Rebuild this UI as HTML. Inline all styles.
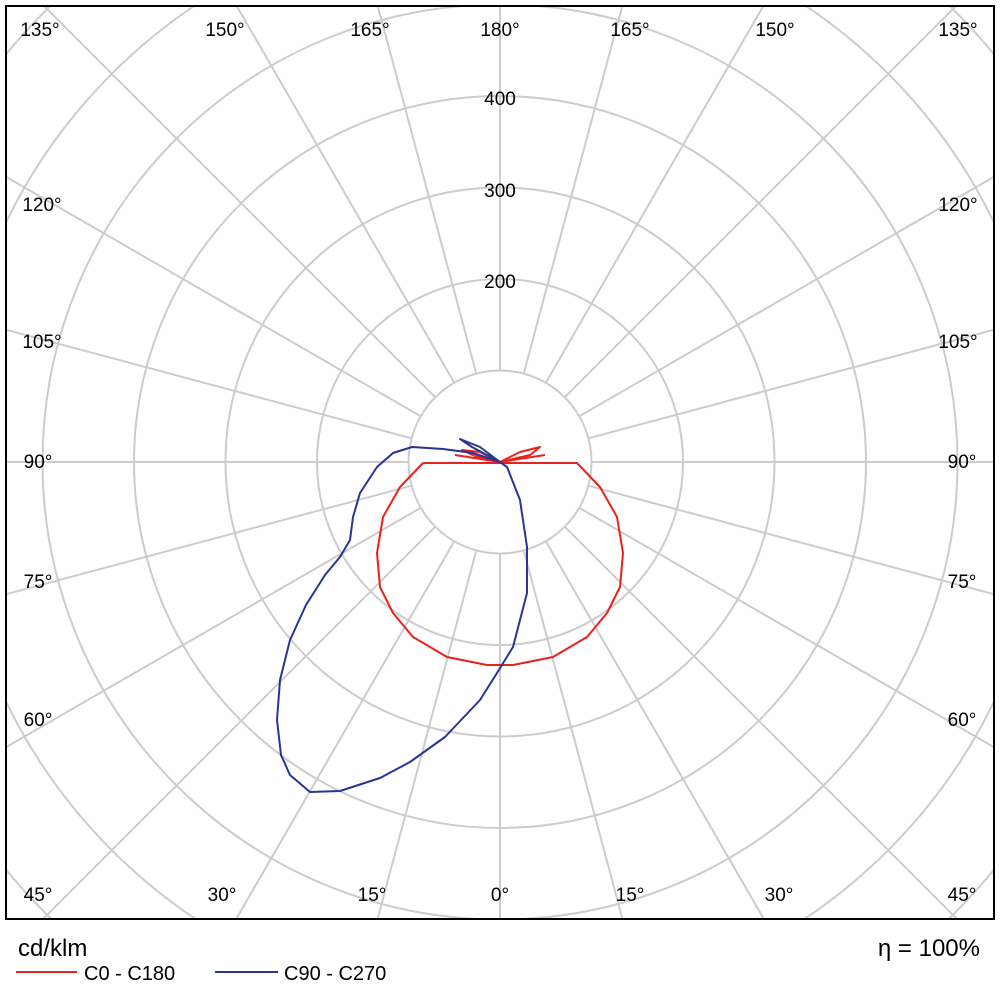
<!DOCTYPE html>
<html><head><meta charset="utf-8"><style>
html,body{margin:0;padding:0;background:#fff;width:1000px;height:1000px;overflow:hidden;}
svg{display:block;font-family:"Liberation Sans","DejaVu Sans",sans-serif;}
</style></head><body>
<svg width="1000" height="1000" viewBox="0 0 1000 1000" xmlns="http://www.w3.org/2000/svg">
<defs><clipPath id="c"><rect x="6" y="6" width="988" height="913"/></clipPath></defs>
<rect width="1000" height="1000" fill="#fff"/>
<g clip-path="url(#c)" stroke="#cccccc" stroke-width="2" fill="none">
<circle cx="500" cy="462" r="91.5"/>
<circle cx="500" cy="462" r="183"/>
<circle cx="500" cy="462" r="274.5"/>
<circle cx="500" cy="462" r="366"/>
<circle cx="500" cy="462" r="457.5"/>
<circle cx="500" cy="462" r="549"/>
<circle cx="500" cy="462" r="640.5"/>
<path d="
M500 553.5 L500 1200 M500 370.5 L500 -300
M408.5 462 L-300 462 M591.5 462 L1300 462
M476.3 550.4 L306.7 1183.3 M523.7 550.4 L693.3 1183.3
M454.3 541.2 L104 1148 M545.8 541.2 L896 1148
M435.3 526.7 L-65 1027 M564.7 526.7 L1065 1027
M420.8 507.8 L-186 858 M579.2 507.8 L1186 858
M411.6 485.7 L-262 666 M588.4 485.7 L1262 666
M411.6 438.3 L-262 258 M588.4 438.3 L1262 258
M420.8 416.3 L-186 66 M579.2 416.3 L1186 66
M435.3 397.3 L-65 -103 M564.7 397.3 L1065 -103
M454.3 382.8 L104 -224 M545.8 382.8 L896 -224
M476.3 373.6 L306.7 -259 M523.7 373.6 L693.3 -259"/>
</g>
<g fill="none" stroke-width="2" stroke-linejoin="round">
<path stroke="#e8221e" d="M423 463 L577 463 L600 487 L617 517 L623 553 L620 587 L607 613 L587 637 L553 657 L513 665 L487 665 L447 657 L413 637 L393 613 L380 587 L377 553 L383 517 L400 487 L423 463
M500 462 L520 452 L540 447 L530 455 L500 462 L545 455 M500 462 L480 452 L462 450 L475 456 L500 462 L455 455"/>
<path stroke="#283593" d="M500 462 L507 467 L520 500 L527 547 L527 593 L513 647 L497 673 L480 700 L445 737 L410 762 L380 778 L340 791 L310 792 L290 775 L281 755 L277 720 L280 680 L290 640 L306 605 L325 575 L340 557 L350 540 L353 517 L360 493 L377 467 L393 453 L412 447 L443 449 L473 453 L500 462 L480 447 L460 439 L472 447 L500 462"/>
</g>
<rect x="6" y="6" width="988" height="913" fill="none" stroke="#000" stroke-width="2"/>
<g font-size="19" fill="#000">
<text x="40" y="36" text-anchor="middle">135°</text>
<text x="225" y="36" text-anchor="middle">150°</text>
<text x="370" y="36" text-anchor="middle">165°</text>
<text x="500" y="36" text-anchor="middle">180°</text>
<text x="630" y="36" text-anchor="middle">165°</text>
<text x="775" y="36" text-anchor="middle">150°</text>
<text x="958" y="36" text-anchor="middle">135°</text>
<text x="500" y="105" text-anchor="middle">400</text>
<text x="500" y="197" text-anchor="middle">300</text>
<text x="500" y="288" text-anchor="middle">200</text>
<text x="42" y="211" text-anchor="middle">120°</text>
<text x="42" y="348" text-anchor="middle">105°</text>
<text x="38" y="468" text-anchor="middle">90°</text>
<text x="38" y="588" text-anchor="middle">75°</text>
<text x="38" y="726" text-anchor="middle">60°</text>
<text x="958" y="211" text-anchor="middle">120°</text>
<text x="958" y="348" text-anchor="middle">105°</text>
<text x="962" y="468" text-anchor="middle">90°</text>
<text x="962" y="588" text-anchor="middle">75°</text>
<text x="962" y="726" text-anchor="middle">60°</text>
<text x="38" y="901" text-anchor="middle">45°</text>
<text x="222" y="901" text-anchor="middle">30°</text>
<text x="372" y="901" text-anchor="middle">15°</text>
<text x="500" y="901" text-anchor="middle">0°</text>
<text x="630" y="901" text-anchor="middle">15°</text>
<text x="779" y="901" text-anchor="middle">30°</text>
<text x="962" y="901" text-anchor="middle">45°</text>
</g>
<text x="18" y="956" font-size="24">cd/klm</text>
<text x="980" y="956" font-size="24" text-anchor="end">η = 100%</text>
<line x1="16" y1="972" x2="77" y2="972" stroke="#e8221e" stroke-width="2"/>
<text x="84" y="980" font-size="20">C0 - C180</text>
<line x1="215" y1="972" x2="278" y2="972" stroke="#283593" stroke-width="2"/>
<text x="284" y="980" font-size="20">C90 - C270</text>
</svg>
</body></html>
